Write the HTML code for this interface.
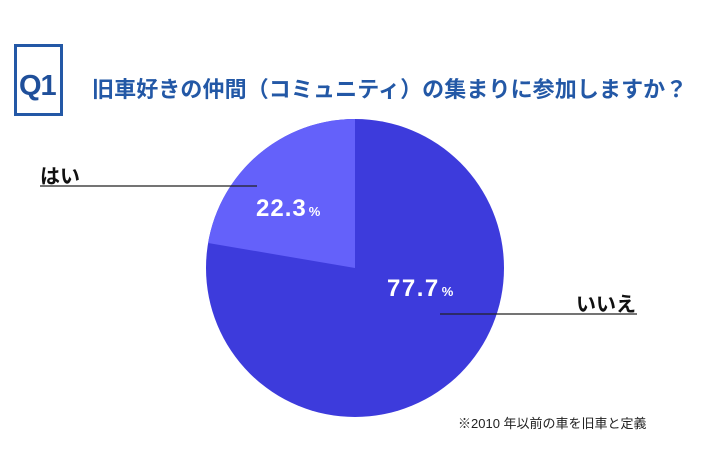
<!DOCTYPE html>
<html><head><meta charset="utf-8"><style>
body{margin:0;background:#fff;}
.w{position:relative;width:710px;height:474px;overflow:hidden;font-family:"Liberation Sans","Noto Sans CJK JP",sans-serif;}
.box{position:absolute;left:14px;top:44px;width:43px;height:66px;border:3px solid #2358a6;}
.q{position:absolute;left:19px;top:70px;font-size:29px;font-weight:bold;color:#1f4f9a;letter-spacing:-1px;}
.t{position:absolute;left:92px;top:72px;font-size:22px;font-weight:bold;color:#2358a6;white-space:nowrap;letter-spacing:0.1px;}
.l{position:absolute;font-size:20px;font-weight:bold;color:#111;}
.n{position:absolute;left:458px;top:413px;font-size:13px;color:#222;}
</style></head><body><div class="w">
<div class="box"></div><div class="q">Q1</div>
<div class="t">旧車好きの仲間（コミュニティ）の集まりに参加しますか？</div>
<svg width="710" height="474" style="position:absolute;left:0;top:0">
<circle cx="355" cy="268" r="149" fill="#3d3bdc"/>
<path d="M355 268 L208.1 243 A149 149 0 0 1 355 119 Z" fill="#6461fa"/>
<line x1="40" y1="186" x2="257" y2="186" stroke="#222" stroke-width="1.2"/>
<line x1="440" y1="314" x2="637" y2="314" stroke="#222" stroke-width="1.2"/>
<text x="256" y="216" fill="#fff" font-family="Liberation Sans" font-weight="bold" font-size="24" letter-spacing="1">22.3<tspan font-size="13" dx="2">%</tspan></text>
<text x="387" y="296" fill="#fff" font-family="Liberation Sans" font-weight="bold" font-size="24" letter-spacing="1.5">77.7<tspan font-size="13" dx="2">%</tspan></text>
</svg>
<div class="l" style="left:40px;top:160px">はい</div>
<div class="l" style="left:576px;top:288px">いいえ</div>
<div class="n">※2010 年以前の車を旧車と定義</div>
</div></body></html>
